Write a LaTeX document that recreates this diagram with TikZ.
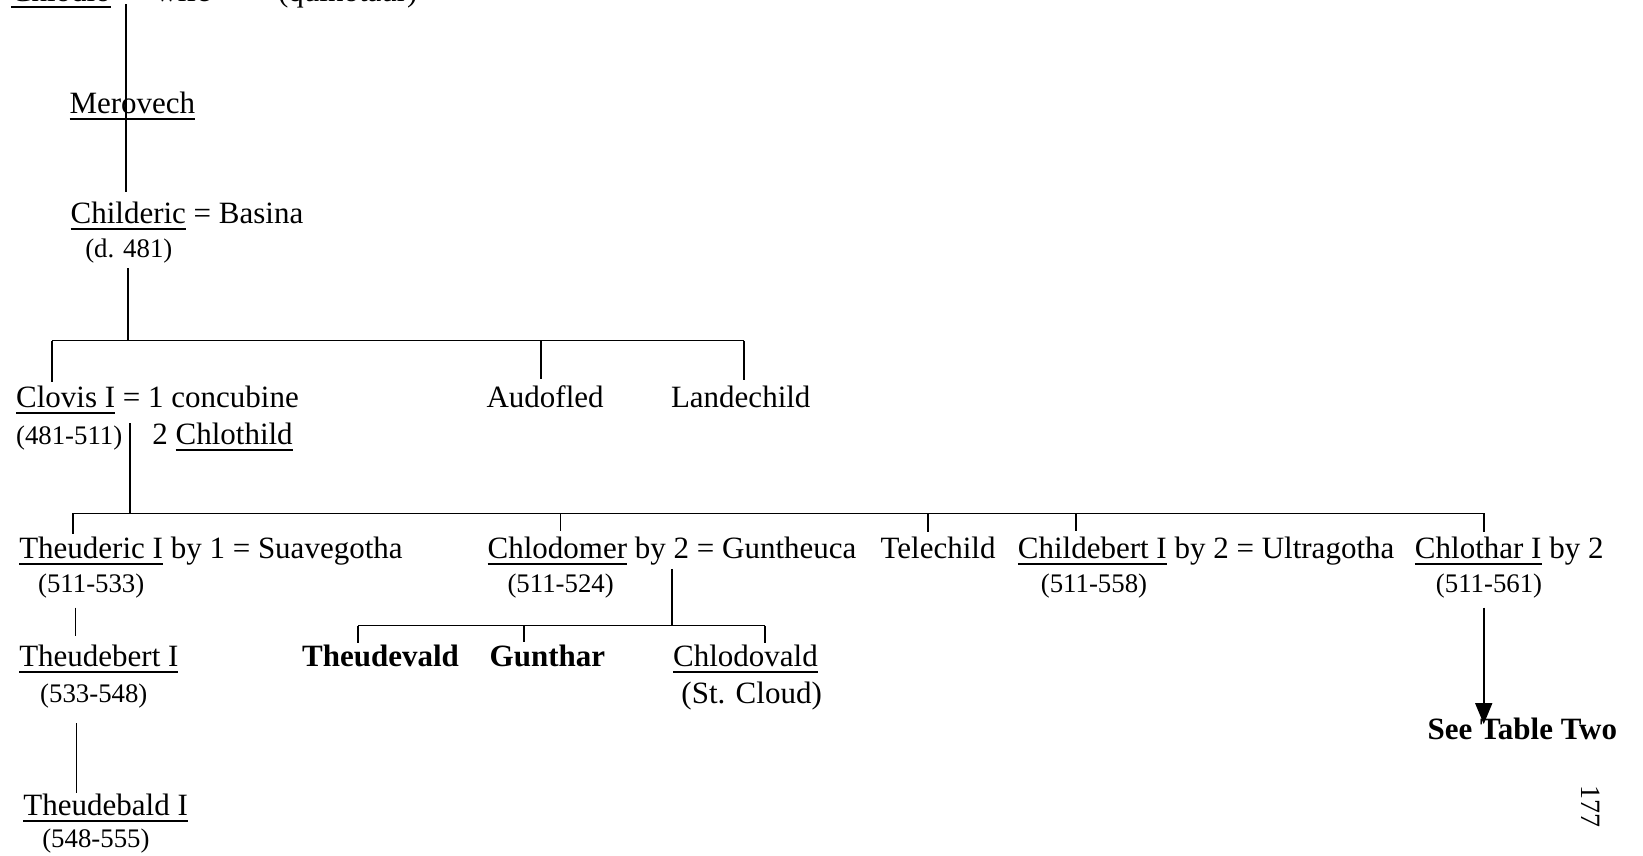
\documentclass[tikz,border=0pt]{standalone}
\usepackage{fontspec}
\setmainfont{Liberation Serif}
\usetikzlibrary{arrows.meta}
\newcommand\myul[1]{\setbox0\hbox{#1}\rlap{\rule[-3.2pt]{\wd0}{0.9pt}}\box0\relax}
\begin{document}
\begin{tikzpicture}[x=0.5239pt,y=-0.5239pt,
  lbl/.style={anchor=base west, inner sep=0pt, font=\fontsize{15.5}{18}\selectfont},
  dt/.style={anchor=base west, inner sep=0pt, font=\fontsize{13.4}{15}\selectfont},
  bd/.style={anchor=base west, inner sep=0pt, font=\fontsize{15.5}{18}\selectfont\bfseries},
  ln/.style={line width=0.9pt}]
\useasboundingbox (0,0) rectangle (1568,816);
\clip (0,0) rectangle (1568,816);
% top (cut off) line
\node[lbl] (chlodio) at (10,1.5) {\myul{Chlodio}};
\node[lbl] (wife) at (148,1.5) {wife};
\node[lbl] (quin) at (265,1.5) {(quinotaur)};
% names
\node[lbl] (merovech) at (66,108) {\myul{Merovech}};
\node[lbl] (childeric) at (67,213) {\myul{Childeric} = Basina};
\node[dt] (d481) at (81,246) {(d. 481)};
\node[lbl] (clovis) at (15,389) {\myul{Clovis I} = 1 concubine};
\node[lbl] (audofled) at (464,389) {Audofled};
\node[lbl] (landechild) at (640,389) {Landechild};
\node[dt] (clovisd) at (15,424) {(481-511)};
\node[lbl] (chlothild) at (145,424) {2 \myul{Chlothild}};
\node[lbl] (theuderic) at (18,533) {\myul{Theuderic I} by 1 = Suavegotha};
\node[lbl] (chlodomer) at (465,533) {\myul{Chlodomer} by 2 = Guntheuca};
\node[lbl] (telechild) at (840,533) {Telechild};
\node[lbl] (childebert) at (971,533) {\myul{Childebert I} by 2 = Ultragotha};
\node[lbl] (chlothar) at (1350,533) {\myul{Chlothar I} by 2};
\node[dt] (theudericd) at (36,565) {(511-533)};
\node[dt] (chlodomerd) at (484,565) {(511-524)};
\node[dt] (childebertd) at (993,565) {(511-558)};
\node[dt] (chlothard) at (1370,565) {(511-561)};
\node[lbl] (theudebert) at (18,636) {\myul{Theudebert I}};
\node[dt] (theudebertd) at (38,670) {(533-548)};
\node[bd] (theudevald) at (288,636) {Theudevald};
\node[bd] (gunthar) at (467,636) {Gunthar};
\node[lbl] (chlodovald) at (642,636) {\myul{Chlodovald}};
\node[lbl] (stcloud) at (650,671) {(St. Cloud)};
\node[lbl] (theudebald) at (22,778) {\myul{Theudebald I}};
\node[dt] (theudebaldd) at (40,809) {(548-555)};
\node[bd] (seetable) at (1362,706) {See Table Two};
\node[inner sep=0pt, rotate=-90, font=\fontsize{14}{16}\selectfont] (page) at (1518,770) {177};
% connectors
\coordinate (t0) at (120,4); \coordinate (t1) at (120,183);
\draw[ln] (t0) -- (t1);
\coordinate (s1) at (122,256); \coordinate (b1m) at (122,325);
\draw[ln] (s1) -- (b1m);
\coordinate (b1l) at (50,325); \coordinate (b1a) at (516,325); \coordinate (b1r) at (710,325);
\draw[ln] (b1l) -- (b1r);
\coordinate (e1) at (50,365); \coordinate (e2) at (516,362); \coordinate (e3) at (710,363);
\draw[ln] (b1l) -- (e1); \draw[ln] (b1a) -- (e2); \draw[ln] (b1r) -- (e3);
\coordinate (s2) at (124,404); \coordinate (b2m) at (124,490);
\draw[ln] (s2) -- (b2m);
\coordinate (b2a) at (70,490); \coordinate (b2b) at (535,490); \coordinate (b2c) at (886,490);
\coordinate (b2d) at (1027,490); \coordinate (b2e) at (1416,490);
\draw[ln] (b2a) -- (b2e);
\coordinate (f1) at (70,510); \coordinate (f2) at (535,507); \coordinate (f3) at (886,508);
\coordinate (f4) at (1027,507); \coordinate (f5) at (1416,508);
\draw[ln] (b2a) -- (f1); \draw[ln] (b2b) -- (f2); \draw[ln] (b2c) -- (f3);
\draw[ln] (b2d) -- (f4); \draw[ln] (b2e) -- (f5);
\coordinate (s3) at (641,543); \coordinate (b3m) at (641,597);
\draw[ln] (s3) -- (b3m);
\coordinate (b3a) at (342,597); \coordinate (b3b) at (500,597); \coordinate (b3c) at (730,597);
\draw[ln] (b3a) -- (b3c);
\coordinate (g1) at (342,614); \coordinate (g2) at (500,613); \coordinate (g3) at (730,614);
\draw[ln] (b3a) -- (g1); \draw[ln] (b3b) -- (g2); \draw[ln] (b3c) -- (g3);
\coordinate (s4a) at (72,580); \coordinate (s4b) at (72,607);
\draw[ln] (s4a) -- (s4b);
\coordinate (s5a) at (73,690); \coordinate (s5b) at (73,757);
\draw[ln] (s5a) -- (s5b);
\coordinate (ar0) at (1416,580); \coordinate (ar1) at (1416,691);
\draw[ln, -{Triangle[width=8.5pt,length=10.5pt]}] (ar0) -- (ar1);
\end{tikzpicture}
\end{document}
